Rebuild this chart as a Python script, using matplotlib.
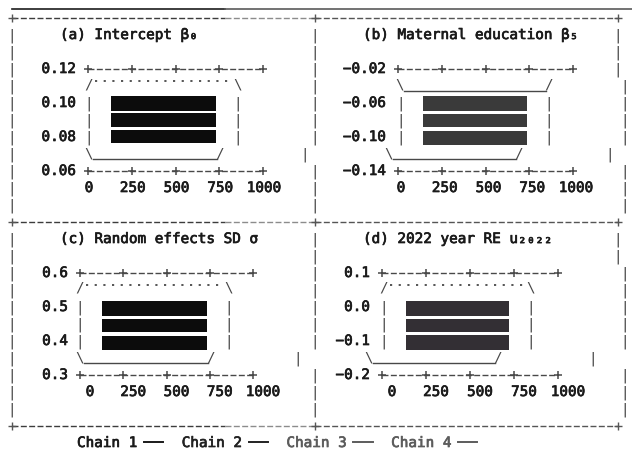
import matplotlib.pyplot as plt
import matplotlib.patheffects as pe
from matplotlib.lines import Line2D

W, H = 632, 452
MONO = ['DejaVu Sans Mono', 'DejaVu Sans']
FS = 10.3
PT = 0.72          # points per pixel at 100 dpi
TXT = '#1a1a1a'
LINE = '#484848'
THICK = [pe.withStroke(linewidth=0.5, foreground=TXT)]

# ---- data ----
iterations = [0, 250, 500, 750, 1000]
iter_labels = ['0', '250', '500', '750', '1000']

titles = ['(a) Intercept β₀', '(b) Maternal education β₅',
          '(c) Random effects SD σ', '(d) 2022 year RE u₂₀₂₂']

yticks_a = [0.06, 0.08, 0.10, 0.12]
ylabels_a = ['0.06', '0.08', '0.10', '0.12']
yticks_b = [-0.14, -0.10, -0.06, -0.02]
ylabels_b = ['−0.14', '−0.10', '−0.06', '−0.02']
yticks_c = [0.3, 0.4, 0.5, 0.6]
ylabels_c = ['0.3', '0.4', '0.5', '0.6']
yticks_d = [-0.2, -0.1, 0.0, 0.1]
ylabels_d = ['−0.2', '−0.1', '0.0', '0.1']

# iteration span of the trace blocks, and lower/upper edge of each block
span_a = [131, 731]
lo_a = [0.0953, 0.0859, 0.0765]
hi_a = [0.1041, 0.0941, 0.0841]
span_b = [143, 737]
lo_b = [-0.0694, -0.0882, -0.1094]
hi_b = [-0.0518, -0.0729, -0.0929]
span_c = [127, 734]
lo_c = [0.4735, 0.4265, 0.3735]
hi_c = [0.5176, 0.4647, 0.4147]
span_d = [136, 722]
lo_d = [-0.0265, -0.0735, -0.1265]
hi_d = [0.0176, -0.0353, -0.0824]

chains = ['Chain 1', 'Chain 2', 'Chain 3', 'Chain 4']
chain_colors = ['#1a1a1a', '#222222', '#5c5c5c', '#5c5c5c']

fig = plt.figure(figsize=(W / 100, H / 100), dpi=100)
bg = fig.add_axes([0, 0, 1, 1])
bg.set_xlim(0, W)
bg.set_ylim(H, 0)
bg.axis('off')


def row_y(k):
    return 19 + 17 * k


def glyph(s, x, y, color=LINE):
    bg.text(x, y, s, family=MONO, fontsize=FS, color=color, ha='center', va='center')


# top rule of the page
bg.plot([12, 225], [10, 10], color='#1c1c1c', lw=1.2)
bg.plot([225, 632], [10, 10], color='#5a5a5a', lw=1.2)

# dashed frame
for k in (0, 12, 24):
    y = row_y(k)
    bg.plot([12, 225], [y, y], color='#3c3c3c', lw=1, ls=(0, (4.3, 1.7)))
    bg.plot([225, 315], [y, y], color='#8c8c8c', lw=1, ls=(0, (4.3, 1.7)))
    bg.plot([315, 618], [y, y], color='#555555', lw=1, ls=(0, (4.3, 1.7)))
    bg.plot([12, 315, 618], [y, y, y], '+', color='#555555', ms=6, mew=1)

mid_shift = {8: 305, 20: 298}
right_shift = {8: 610, 20: 593}
for k in list(range(1, 12)) + list(range(13, 24)):
    y = row_y(k)
    glyph('|', 12, y)
    glyph('|', mid_shift.get(k, 315), y)
    xr = 618 if k in (1, 2, 3, 13, 14) else 625
    glyph('|', right_shift.get(k, xr), y)

panels = [
    dict(title=titles[0], yt=yticks_a, yl=ylabels_a, span=span_a, lo=lo_a, hi=hi_a,
         box=(88, 263, 70, 172), tx=60, trow=1, dx=1, bar='#0c0c0c', top='arch', shift=0),
    dict(title=titles[1], yt=yticks_b, yl=ylabels_b, span=span_b, lo=lo_b, hi=hi_b,
         box=(398, 573, 70, 172), tx=363, trow=1, dx=3, bar='#3a3a3a', top='cup', shift=-12),
    dict(title=titles[2], yt=yticks_c, yl=ylabels_c, span=span_c, lo=lo_c, hi=hi_c,
         box=(80, 253, 274, 376), tx=60, trow=13, dx=10, bar='#0c0c0c', top='arch', shift=0),
    dict(title=titles[3], yt=yticks_d, yl=ylabels_d, span=span_d, lo=lo_d, hi=hi_d,
         box=(382, 558, 274, 376), tx=363, trow=13, dx=10, bar='#332f34', top='arch', shift=-15),
]

for p in panels:
    x0, x1, pt, pb = p['box']
    ax = fig.add_axes([x0 / W, 1 - pb / H, (x1 - x0) / W, (pb - pt) / H])
    ax.set_xlim(iterations[0], iterations[-1])
    ax.set_ylim(p['yt'][0], p['yt'][-1])
    ax.axis('off')

    bg.text(p['tx'], row_y(p['trow']), p['title'], family=MONO, fontsize=FS,
            color=TXT, ha='left', va='center', path_effects=THICK)

    # ascii style axes: +----+----+ at top and bottom
    for yv in (p['yt'][0], p['yt'][-1]):
        ax.plot([iterations[0], iterations[-1]], [yv, yv], color=LINE, lw=1,
                ls=(0, (4.3, 1.7)), clip_on=False)
        ax.plot(iterations, [yv] * len(iterations), '+', color=LINE, ms=6, mew=1.1,
                clip_on=False)
    for t, lab in zip(iterations, iter_labels):
        ax.annotate(lab, (t, p['yt'][0]), xytext=(p['dx'] * PT, -17 * PT),
                    textcoords='offset points', ha='center', va='center',
                    family=MONO, fontsize=FS, color=TXT, path_effects=THICK)
    for yv, lab in zip(p['yt'], p['yl']):
        ax.annotate(lab, (0, yv), xytext=(-12 * PT, 0), textcoords='offset points',
                    ha='right', va='center', family=MONO, fontsize=FS, color=TXT,
                    path_effects=THICK)

    # trace blocks
    heights = [h - l for l, h in zip(p['lo'], p['hi'])]
    ax.bar(p['span'][0], heights, width=p['span'][1] - p['span'][0], bottom=p['lo'],
           align='edge', color=p['bar'], lw=0)

    # ascii envelope around the blocks
    bx0 = ax.transData.transform((p['span'][0], max(p['hi'])))[0]
    bx1 = ax.transData.transform((p['span'][1], min(p['lo'])))[0]
    xl, xr = bx0 - 22, bx1 + 22
    for yy in (pt + 34, pt + 51, pt + 68):
        glyph('|', xl, yy)
        glyph('|', xr, yy)
    if p['top'] == 'arch':
        glyph('/', xl, pt + 14)
        glyph('\\', xr, pt + 14)
        bg.plot([xl + 6, xr - 6], [pt + 12] * 2, color=LINE, lw=1.3, ls=(0, (1.2, 3.6)))
    else:
        glyph('\\', xl - 1, pt + 14)
        glyph('/', xr, pt + 14)
        bg.plot([xl + 3, xr - 3], [pt + 22] * 2, color=LINE, lw=1)
    s = p['shift']
    glyph('\\', xl + s, pb - 18)
    glyph('/', bx1 + 4 + s, pb - 18)
    bg.plot([xl + s + 4, bx1 + s + 1], [pb - 12] * 2, color=LINE, lw=1)

handles = [Line2D([], [], color=c, lw=1.4) for c in chain_colors]
leg = fig.legend(handles, chains, loc='center left',
                 bbox_to_anchor=(77 / W, 1 - row_y(25) / H),
                 ncol=4, frameon=False, markerfirst=False, borderpad=0, borderaxespad=0,
                 handlelength=1.35, handletextpad=0.45, columnspacing=1.3,
                 prop={'family': MONO, 'size': FS}, labelcolor=chain_colors)
for txt, c in zip(leg.get_texts(), chain_colors):
    txt.set_path_effects([pe.withStroke(linewidth=0.5, foreground=c)])

fig.savefig('out.png', dpi=100)
